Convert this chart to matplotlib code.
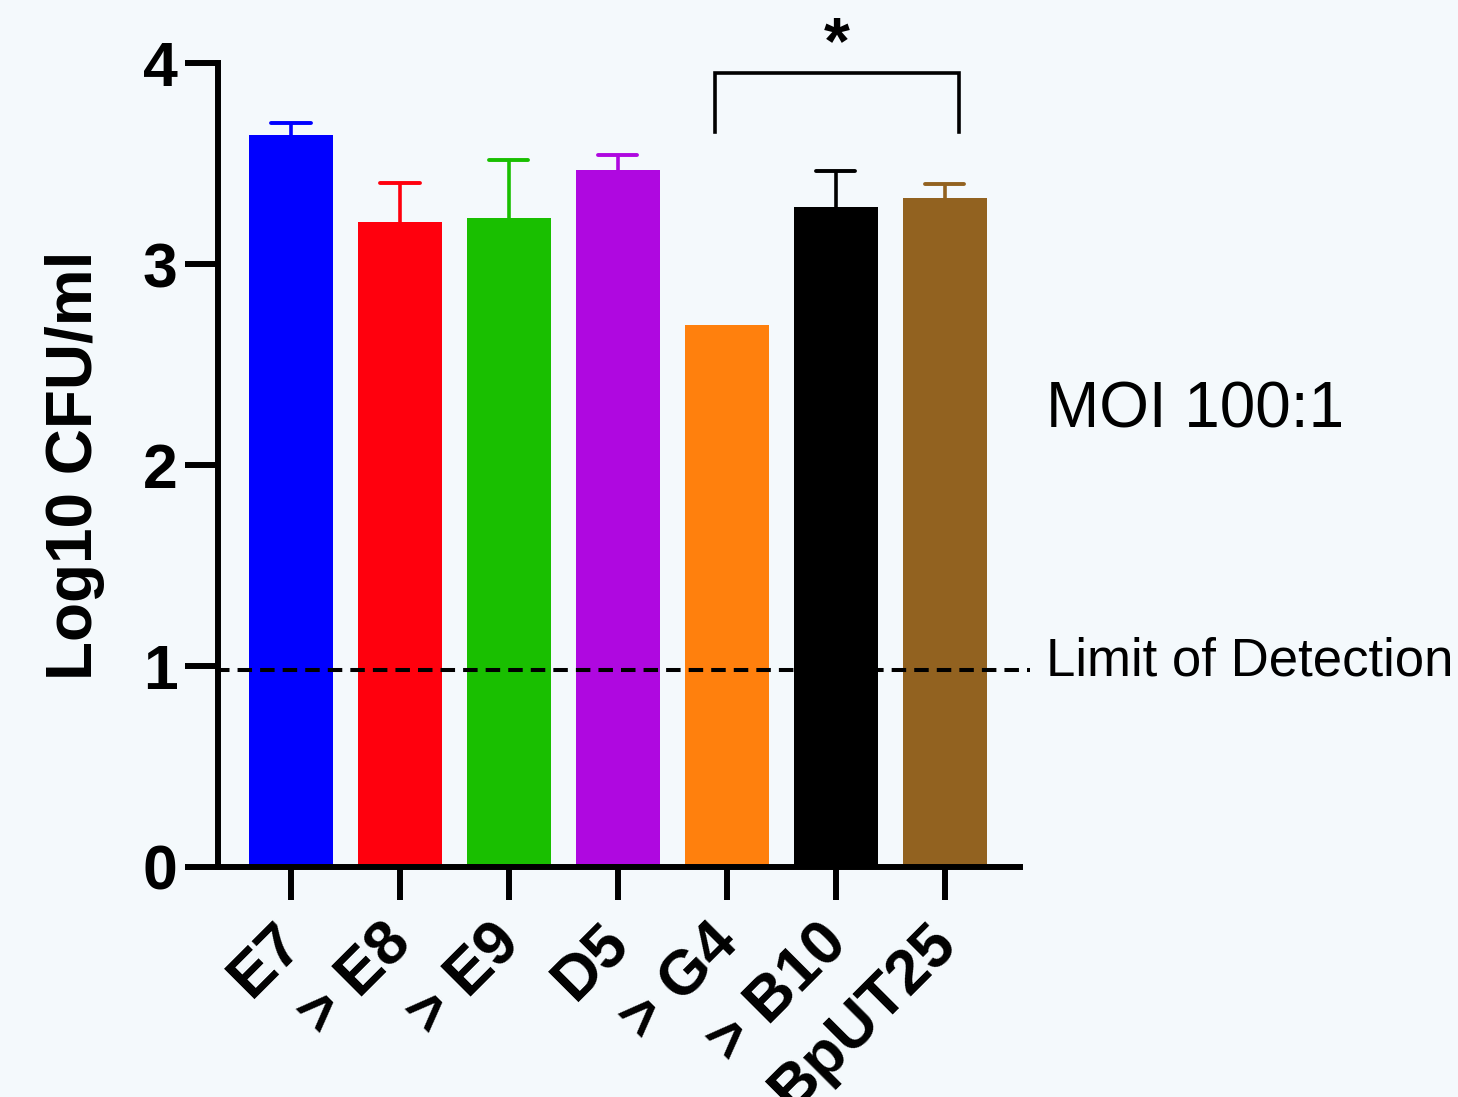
import matplotlib
matplotlib.use("Agg")
import matplotlib.pyplot as plt
from matplotlib.transforms import ScaledTranslation

# ---- data ----
categories = ["E7", "> E8", "> E9", "D5", "> G4", "> B10", "BpUT25"]
means = [3.643, 3.211, 3.231, 3.469, 2.695, 3.286, 3.328]
errors = [0.061, 0.194, 0.287, 0.073, 0.0, 0.179, 0.071]
colors = ["#0000FF", "#FF000D", "#19BF00", "#AF08E0", "#FF800D", "#000000", "#926220"]
yticks = [0, 1, 2, 3, 4]
lod = 0.98
bracket_pair = (4, 6)

bg = "#F4F9FC"
plt.rcParams["font.family"] = ["Liberation Sans", "DejaVu Sans"]

fig = plt.figure(figsize=(14.58, 10.97), dpi=100, facecolor=bg)
ax = fig.add_axes([0.1495, 0.2099, 0.5500, 0.7324])
ax.set_facecolor(bg)

x = list(range(len(categories)))
ax.bar(x, means, width=0.77, color=colors, edgecolor="none", zorder=2)

# upper-only error bars
for xi, m, e, c in zip(x, means, errors, colors):
    if e > 0:
        ax.vlines(xi, m, m + e, colors=c, lw=2.6, zorder=3)
        ax.hlines(m + e, xi - 0.18, xi + 0.18, colors=c, lw=2.8, zorder=3, capstyle="round")

ax.set_xlim(-0.67, 6.69)
ax.set_ylim(0, 4)

# limit of detection line
ax.plot([-0.70, 6.78], [lod, lod], color="black", lw=2.9, dashes=(3.6, 2.0),
        clip_on=False, zorder=4)
ax.text(6.93, lod + 0.04, "Limit of Detection", fontsize=38, va="center", ha="left",
        clip_on=False)
ax.text(6.93, 2.27, "MOI 100:1", fontsize=46, va="center", ha="left", clip_on=False)

# significance bracket
bx0, bx1 = bracket_pair[0] - 0.11, bracket_pair[1] + 0.13
ax.plot([bx0, bx0, bx1, bx1], [3.66, 3.952, 3.952, 3.66], color="black", lw=2.6,
        clip_on=False, zorder=5, solid_joinstyle="miter")
ax.text((bx0 + bx1) / 2, 4.0, "*", fontsize=48, fontweight="bold", ha="center",
        va="baseline", clip_on=False)

# axes styling
for s in ["top", "right"]:
    ax.spines[s].set_visible(False)
for s in ["left", "bottom"]:
    ax.spines[s].set_linewidth(4.3)
ax.tick_params(axis="both", length=24, width=4.3, direction="out", labelsize=45)
ax.tick_params(axis="y", pad=5)
ax.set_yticks(yticks)
ax.set_yticklabels([str(t) for t in yticks], fontweight="bold")
ax.set_xticks(x)
ax.set_xticklabels(categories, rotation=45, ha="right", va="center",
                   rotation_mode="anchor", fontweight="bold")
ax.tick_params(axis="x", pad=24)
for lab in ax.get_xticklabels():
    lab.set_transform(lab.get_transform() + ScaledTranslation(0.02, 0, fig.dpi_scale_trans))

ax.set_ylabel("Log10 CFU/ml", fontsize=46, fontweight="bold")
ax.yaxis.set_label_coords(-0.141, 0.5)

fig.savefig("out.png", dpi=100, facecolor=bg)
